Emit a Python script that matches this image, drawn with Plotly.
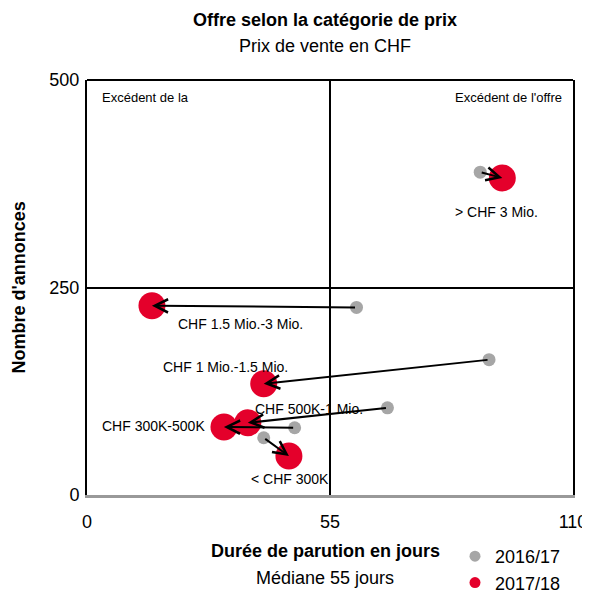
import plotly.graph_objects as go

categories = ["> CHF 3 Mio.", "CHF 1.5 Mio.-3 Mio.", "CHF 1 Mio.-1.5 Mio.",
              "CHF 500K-1 Mio.", "CHF 300K-500K", "< CHF 300K"]
x_2016 = [89, 61, 91, 68, 47, 40]
y_2016 = [389, 226, 163, 105, 81, 69]
x_2018 = [94, 14.7, 40, 36.4, 31, 45.7]
y_2018 = [382, 228, 134, 87, 82, 47]
series_names = ["2016/17", "2017/18"]
x_ticks = [0, 55, 110]
y_ticks = [0, 250, 500]

FONT = "Liberation Sans Narrow, Arial Narrow, Liberation Sans, Arial, sans-serif"
GRAY = "#A6A6A6"
RED = "#E4002B"

# label offsets (pixels) relative to the 2017/18 point
label_shift = [(-6, -34), (89, -18), (-38, 17), (61, 14), (-70, 1), (1, -23)]

fig = go.Figure()
fig.add_trace(go.Scatter(x=x_2016, y=y_2016, mode="markers", showlegend=False,
                         marker=dict(color=GRAY, size=13), hoverinfo="skip"))
fig.add_trace(go.Scatter(x=x_2018, y=y_2018, mode="markers", showlegend=False,
                         marker=dict(color=RED, size=27), hoverinfo="skip"))
fig.add_trace(go.Scatter(x=[None], y=[None], mode="markers", name=series_names[0],
                         marker=dict(color=GRAY, size=11)))
fig.add_trace(go.Scatter(x=[None], y=[None], mode="markers", name=series_names[1],
                         marker=dict(color=RED, size=11)))

ann = []
for i, c in enumerate(categories):
    ann.append(dict(x=x_2018[i], y=y_2018[i], ax=x_2016[i], ay=y_2016[i],
                    xref="x", yref="y", axref="x", ayref="y", text="",
                    showarrow=True, arrowhead=5, arrowsize=1.3, arrowwidth=2,
                    arrowcolor="black", standoff=0, startstandoff=0))
    dx, dy = label_shift[i]
    ann.append(dict(x=x_2018[i], y=y_2018[i], xref="x", yref="y", text=c,
                    showarrow=False, xshift=dx, yshift=dy,
                    font=dict(size=14, color="black", family=FONT)))

def py(p):
    return (495 - p) / 415

def px(p):
    return (p - 87) / 486

def txt(x, y, text, size=18, xanchor="center", angle=0):
    return dict(x=x, y=y, xref="paper", yref="paper", showarrow=False,
                xanchor=xanchor, yanchor="middle", textangle=angle, text=text,
                font=dict(size=size, family=FONT, color="black"))

ann += [
    txt(px(325), py(20), "<b>Offre selon la catégorie de prix</b>"),
    txt(px(325), py(46), "Prix de vente en CHF"),
    txt(px(325), py(551), "<b>Durée de parution en jours</b>"),
    txt(px(325), py(578), "Médiane 55 jours"),
    txt(px(18), 0.5, "<b>Nombre d'annonces</b>", angle=-90),
    txt(px(100), py(97), "Excédent de la", size=13, xanchor="left"),
    txt(px(564), py(97), "Excédent de l'offre", size=13, xanchor="right"),
]

# the page body adds an 8px offset; margins chosen so the plot area lands at 87-573 x 80-495
fig.update_layout(
    width=590, height=594,
    margin=dict(l=79, r=25, t=72, b=107, autoexpand=False),
    plot_bgcolor="white", paper_bgcolor="white",
    font=dict(family=FONT, size=18, color="black"),
    annotations=ann,
    shapes=[dict(type="line", xref="paper", yref="paper", x0=0, x1=1, y0=1, y1=1,
                 line=dict(color="black", width=2))],
    legend=dict(x=px(455), y=py(538), xanchor="left", yanchor="top",
                font=dict(size=18, family=FONT), bgcolor="rgba(0,0,0,0)",
                itemwidth=30, tracegroupgap=0),
)
fig.update_xaxes(range=[0, 110], tickvals=x_ticks, ticks="", showgrid=True,
                 gridcolor="black", gridwidth=1.5, zeroline=False,
                 showline=True, linecolor="#999999", linewidth=3,
                 ticklabelstandoff=8, tickfont=dict(size=18))
fig.update_yaxes(range=[0, 500], tickvals=y_ticks, ticks="", showgrid=True,
                 gridcolor="black", gridwidth=1.5, zeroline=False,
                 showline=True, mirror=True, linecolor="black", linewidth=2,
                 ticklabelstandoff=2, tickfont=dict(size=18))

fig.write_html("out.html")
